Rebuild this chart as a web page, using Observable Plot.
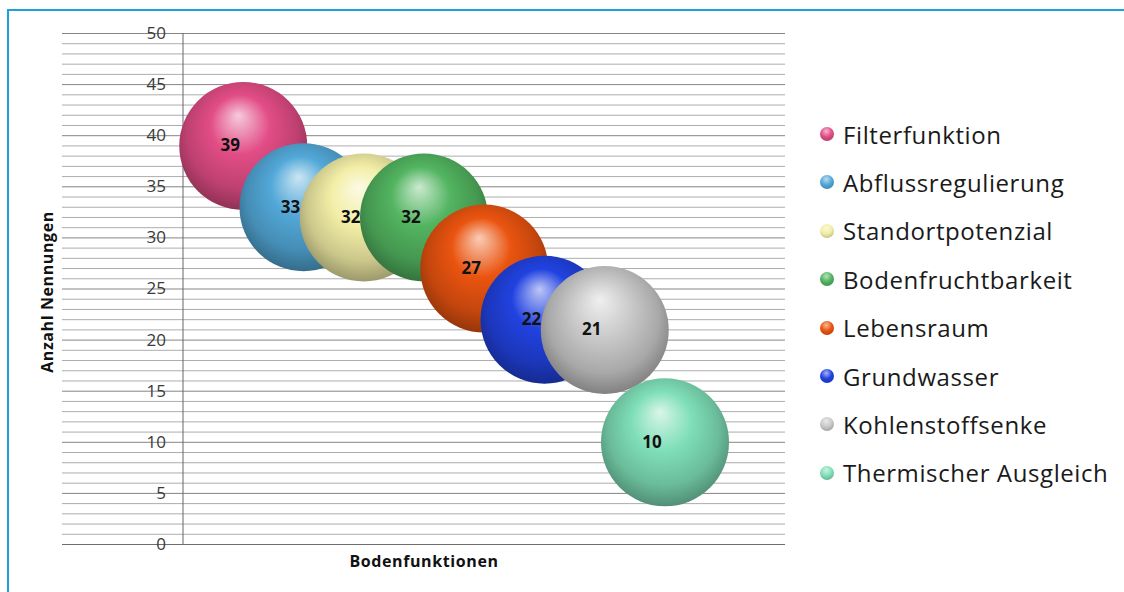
<!DOCTYPE html>
<html><head><meta charset="utf-8">
<script src="https://cdn.jsdelivr.net/npm/d3@7"></script>
<script src="https://cdn.jsdelivr.net/npm/@observablehq/plot@0.6"></script>
<style>
html,body{margin:0;padding:0;background:#fff;}
#wrap{position:relative;width:1124px;height:592px;overflow:hidden;background:#fff;}
#frameTop{position:absolute;left:7px;top:9px;width:1117px;height:2px;background:#1ba1dc;}
#frameLeft{position:absolute;left:7px;top:9px;width:2px;height:583px;background:#1ba1dc;}
#chart{position:absolute;left:0;top:0;}
#legend{position:absolute;left:0;top:0;font-family:"Open Sans",sans-serif;font-size:24px;letter-spacing:0.6px;color:#1a1a1a;}
.item{position:absolute;left:820px;height:32px;white-space:nowrap;display:flex;align-items:center;}
.sw{width:14px;height:14px;border-radius:50%;margin-right:9px;}
</style>
</head><body>
<div id="wrap">
  <div id="frameTop"></div><div id="frameLeft"></div>
  <div id="chart"></div>
  <div id="legend"></div>
</div>
<script>
const categories = ["Filterfunktion","Abflussregulierung","Standortpotenzial","Bodenfruchtbarkeit","Lebensraum","Grundwasser","Kohlenstoffsenke","Thermischer Ausgleich"];
const values = [39,33,32,32,27,22,21,10];
const colors = ["#e24d86","#52a8d8","#f3eea6","#52b460","#ea5410","#2142e0","#c9c9c9","#7fdfb8"];
const yTickLabels = [0,5,10,15,20,25,30,35,40,45,50];
const yMinorGrid = d3.range(0,51,1);
const yTitle = "Anzahl Nennungen";
const xTitle = "Bodenfunktionen";

const data = categories.map((c,i)=>({name:c, x:i+1, y:values[i], color:colors[i], idx:i}));

const plot = Plot.plot({
  width: 790, height: 592,
  marginLeft: 62, marginRight: 5, marginTop: 33, marginBottom: 48,
  x: {domain: [-2, 10], axis: null},
  y: {domain: [0, 50], axis: null},
  style: {background: "transparent", overflow: "visible"},
  marks: [
    Plot.ruleY(yMinorGrid.filter(v => v % 5 !== 0), {stroke: "#acacac", strokeWidth: 1}),
    Plot.ruleY(yTickLabels, {stroke: "#858585", strokeWidth: 1}),
    Plot.ruleY([0], {stroke: "#6e6e6e", strokeWidth: 1.2}),
    Plot.ruleX([0], {stroke: "#666", strokeWidth: 1}),
    Plot.text(yTickLabels, {x: 0, y: d => d, text: d => String(d), dx: -17, textAnchor: "end",
      fontSize: 17, fill: "#3a3a3a", fontFamily: "Open Sans"}),
    Plot.dot(data, {x: "x", y: "y", r: 64, fill: d => `url(#ball${d.idx})`, stroke: "none"}),
    Plot.text(data, {x: "x", y: "y", text: d => String(d.y), dx: -13, fontSize: 17, fontWeight: "bold",
      fill: "#111", fontFamily: "Open Sans"}),
    Plot.text([yTitle], {frameAnchor: "left", textAnchor: "middle", rotate: -90, dx: -15, dy: 3, fontSize: 16,
      fontWeight: "bold", fill: "#111", fontFamily: "Open Sans"}),
    Plot.text([xTitle], {frameAnchor: "bottom", dy: 22, fontSize: 16, fontWeight: "bold",
      fill: "#111", fontFamily: "Open Sans"})
  ]
});

const defs = d3.select(plot).insert("defs", ":first-child");
colors.forEach((c, i) => {
  const base = d3.color(c);
  const g = defs.append("radialGradient").attr("id", "ball" + i)
    .attr("cx", "50%").attr("cy", "45%").attr("r", "58%").attr("fx", "46%").attr("fy", "26%");
  g.append("stop").attr("offset", "0%").attr("stop-color", d3.interpolateRgb(c, "#ffffff")(0.7));
  g.append("stop").attr("offset", "40%").attr("stop-color", c);
  g.append("stop").attr("offset", "75%").attr("stop-color", base.darker(0.5).formatHex());
  g.append("stop").attr("offset", "100%").attr("stop-color", base.darker(1.4).formatHex());
});
d3.select(plot).selectAll("text").filter(function(){ return this.textContent === yTitle || this.textContent === xTitle; })
  .style("letter-spacing", "0.6px");
document.getElementById("chart").appendChild(plot);

const legend = d3.select("#legend");
categories.forEach((c, i) => {
  const it = legend.append("div").attr("class", "item").style("top", (118 + i * 48.4) + "px");
  const base = d3.color(colors[i]);
  it.append("div").attr("class", "sw")
    .style("background", `radial-gradient(circle at 45% 30%, ${d3.interpolateRgb(colors[i], "#fff")(0.6)} 0%, ${colors[i]} 45%, ${base.darker(1).formatHex()} 100%)`);
  it.append("span").text(c);
});
</script>
</body></html>
